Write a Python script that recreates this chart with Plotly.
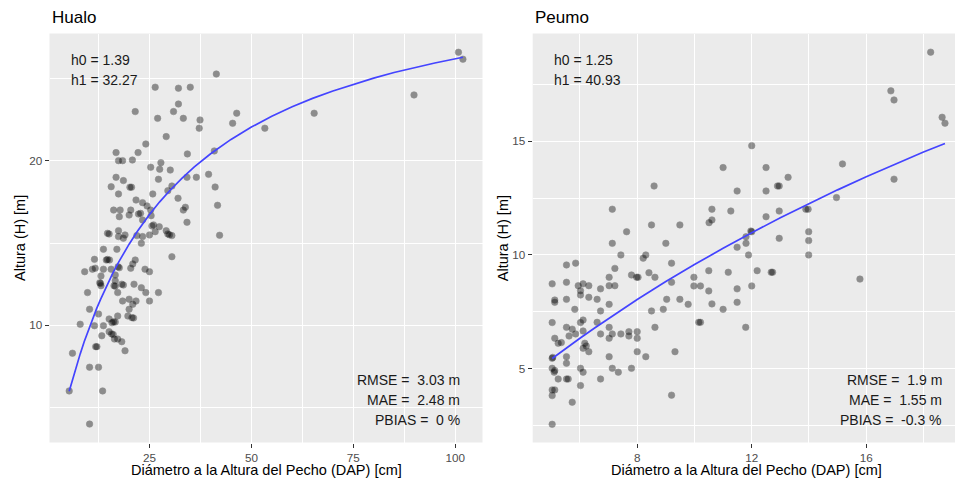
import plotly.graph_objects as go

# ---------------- Data: Hualo ----------------
hualo_dap = [26.4, 32.1, 35.0, 32.1, 30.9, 21.5, 27.0, 33.3, 37.4, 37.2, 29.1, 24.1, 16.8, 22.2,
             17.4, 18.4, 20.8, 27.8, 34.3, 25.3, 27.5, 30.1, 16.8, 18.6, 27.2, 34.2, 36.5, 39.5,
             15.6, 20.2, 20.6, 30.5, 17.4, 25.8, 29.5, 21.7, 32.0, 23.3, 16.2, 17.8, 20.4, 24.4,
             22.3, 22.8, 25.3, 20.0, 17.6, 25.4, 33.8, 33.3, 23.3, 34.2, 25.6, 26.0, 27.4, 14.7,
             15.1, 17.4, 19.0, 17.4, 21.9, 23.3, 25.0, 26.4, 29.1, 29.5, 29.9, 30.5, 23.0, 18.6,
             13.7, 17.0, 11.5, 14.4, 14.7, 15.2, 21.5, 20.9, 30.5, 9.1, 11.0, 11.7, 13.7, 15.6,
             17.3, 17.6, 20.4, 23.9, 25.0, 13.1, 16.6, 12.8, 13.0, 13.1, 16.6, 16.3, 16.6, 18.2,
             18.6, 21.2, 23.0, 24.1, 27.2, 9.8, 17.2, 18.4, 20.0, 21.7, 20.9, 25.0, 10.3, 12.5,
             20.0, 19.7, 20.7, 21.1, 17.2, 15.1, 16.2, 16.6, 15.8, 8.0, 11.5, 13.7, 15.1, 15.7,
             16.1, 13.3, 16.4, 17.2, 18.2, 19.0, 11.8, 12.1, 6.1, 10.3, 12.5, 5.3, 13.5, 10.3,
             41.4, 46.4, 45.4, 53.3, 65.4, 40.9, 41.1, 41.7, 42.2, 89.9, 100.8, 101.9]
hualo_h = [24.46, 24.4, 24.46, 23.44, 22.98, 22.98, 22.57, 22.57, 22.47, 21.97, 21.46, 21.01, 20.49, 20.49,
           20.0, 20.0, 20.04, 19.88, 20.41, 19.6, 19.48, 19.43, 18.99, 18.79, 18.87, 18.99, 18.99, 19.17,
           18.42, 18.39, 18.39, 18.46, 17.98, 17.98, 18.18, 17.61, 17.72, 17.45, 17.0, 17.0, 17.0, 17.25,
           16.76, 16.8, 17.0, 16.7, 16.6, 16.66, 17.17, 17.0, 16.4, 16.26, 16.04, 16.1, 15.99, 15.59,
           15.55, 15.75, 15.49, 15.39, 15.45, 15.39, 15.49, 15.69, 15.75, 15.55, 15.5, 15.45, 14.98, 15.29,
           14.62, 14.62, 14.01, 13.97, 14.0, 13.97, 13.97, 13.73, 14.17, 13.26, 13.41, 13.47, 13.41, 13.41,
           13.56, 13.5, 13.47, 13.41, 13.26, 13.0, 13.06, 12.59, 12.55, 12.41, 12.71, 12.41, 12.38, 12.5,
           12.45, 12.5, 12.29, 11.99, 11.99, 11.99, 11.99, 11.48, 11.59, 11.48, 11.28, 11.48, 10.98, 10.69,
           10.98, 10.57, 10.47, 10.45, 10.57, 10.39, 10.22, 10.2, 10.16, 10.07, 9.98, 9.98, 9.62, 9.48,
           9.45, 9.37, 9.17, 9.17, 9.01, 8.46, 8.71, 8.71, 8.31, 7.46, 7.46, 6.02, 6.02, 4.01,
           25.26, 22.88, 22.27, 21.97, 22.88, 20.59, 18.4, 17.29, 15.47, 23.99, 26.58, 26.16]
# fitted curve
hualo_fit_dap = [5.3, 6, 7, 8, 9, 10, 11, 12, 13, 14, 15, 16, 17.5, 19, 20, 22, 25, 27.5, 30, 33,
                 36, 40, 45, 50, 55, 60, 65, 70, 75, 80, 85, 90, 95, 101.9]
hualo_fit_h = [6.00, 6.63, 7.48, 8.27, 9.02, 9.72, 10.37, 11.00, 11.58, 12.14, 12.67, 13.17, 13.87,
               14.52, 14.93, 15.70, 16.73, 17.50, 18.19, 18.94, 19.62, 20.42, 21.29, 22.04, 22.69,
               23.27, 23.78, 24.23, 24.64, 25.01, 25.35, 25.65, 25.93, 26.28]

# ---------------- Data: Peumo ----------------
peumo_dap = [18.25, 16.86, 16.97, 18.65, 18.75,
             12.0, 11.0, 12.5, 13.27, 12.96, 12.9, 11.49, 12.5, 15.17, 16.97, 14.96, 10.61, 11.27,
             12.96, 13.89, 13.97, 10.51, 10.61, 12.5, 12.0, 11.97, 11.8, 11.49, 11.8, 12.96, 13.99,
             13.99, 11.89, 13.99, 9.98, 9.98, 10.21, 10.5, 10.5, 11.18, 12.19, 12.73, 12.68, 12.0,
             11.49, 11.49, 10.61, 11.0, 10.21, 10.15, 11.79, 15.78,
             8.59, 7.13, 8.5, 9.49, 7.63, 7.13, 9.0, 7.43, 8.3, 8.21, 5.53, 5.85, 7.22, 9.2,
             5.03, 5.53, 5.94, 6.11, 6.31, 6.02, 6.02, 6.72, 7.02, 7.22, 7.02, 7.8, 8.03, 7.98, 8.41,
             8.62, 5.12, 5.12, 5.53, 6.31, 6.6, 7.02, 5.82, 6.72, 5.03, 6.02, 6.11, 6.6, 5.53, 5.73,
             5.85, 5.62, 5.12, 6.11, 6.72, 7.02, 7.13, 7.02, 7.43, 7.71, 7.71, 8.0, 8.0, 8.62, 8.5,
             8.91, 9.03, 9.2, 9.49, 9.78, 5.24, 5.35, 6.17, 6.22, 6.11, 6.31, 5.03, 5.05, 5.53, 5.53,
             5.03, 5.12, 5.1, 6.02, 6.11, 7.02, 7.13, 7.34, 7.8, 8.0, 8.3, 9.32, 5.24, 5.53, 5.59,
             6.72, 6.02, 5.03, 5.12, 5.03, 5.73, 9.2, 5.03]
peumo_h = [18.91, 17.21, 16.81, 16.05, 15.79,
           14.8, 13.84, 13.84, 13.41, 13.03, 13.03, 12.81, 12.81, 14.0, 13.33, 12.52, 12.01, 11.93,
           11.93, 12.01, 12.01, 11.42, 11.54, 11.68, 11.02, 11.05, 10.8, 10.34, 10.51, 10.73, 11.02,
           10.63, 10.0, 10.0, 9.02, 8.64, 8.64, 9.31, 8.42, 9.24, 9.31, 9.24, 9.24, 8.64,
           8.51, 7.92, 7.85, 7.61, 7.04, 7.04, 6.82, 8.94,
           13.03, 12.01, 11.32, 11.32, 11.02, 10.51, 10.51, 10.0, 10.0, 9.86, 9.56, 9.64, 9.41, 9.64,
           8.73, 8.8, 8.65, 8.73, 8.65, 8.43, 8.24, 8.51, 9.02, 8.65, 8.65, 9.12, 9.02, 9.02, 9.22,
           9.02, 8.02, 7.92, 8.05, 8.14, 8.05, 7.83, 7.61, 7.54, 7.03, 7.03, 7.14, 7.04, 6.82, 6.74,
           6.53, 6.44, 6.34, 6.66, 6.53, 6.82, 6.53, 6.34, 6.53, 6.63, 6.44, 6.63, 6.34, 6.82, 7.54,
           7.61, 8.05, 8.8, 8.05, 7.83, 6.12, 6.15, 6.12, 6.0, 5.9, 5.75, 5.46, 5.5, 5.53, 5.24,
           5.02, 4.92, 4.85, 5.02, 4.85, 5.53, 5.02, 4.85, 5.02, 5.75, 5.53, 5.75, 4.55, 4.55, 4.55,
           4.55, 4.26, 4.07, 4.07, 3.82, 3.53, 3.84, 2.56]
peumo_fit_dap = [5.03, 5.5, 6, 6.5, 7, 7.5, 8, 9, 10, 11, 12, 13, 14, 15, 16, 17, 18, 18.75]
peumo_fit_h = [5.45, 5.89, 6.34, 6.78, 7.21, 7.63, 8.04, 8.83, 9.58, 10.29, 10.98, 11.63, 12.26,
               12.86, 13.44, 13.99, 14.52, 14.90]

titles = ["Hualo", "Peumo"]
param_text = [["h0 = 1.39", "h1 = 32.27"], ["h0 = 1.25", "h1 = 40.93"]]
stat_text = [["RMSE =\u00a0 3.03 m", "MAE =\u00a0 2.48 m", "PBIAS =\u00a0 0 %"],
             ["RMSE =\u00a0 1.9 m", "MAE =\u00a0 1.55 m", "PBIAS =\u00a0 -0.3 %"]]
x_title = "Diámetro a la Altura del Pecho (DAP) [cm]"
y_title = "Altura (H) [m]"

# ---------------- Figure ----------------
W, H = 955, 480
FONT = "Liberation Sans, Arial, sans-serif"
pt_marker = dict(color="black", opacity=0.4, size=6.5, line=dict(width=0.6, color="black"))
line_style = dict(color="rgb(68,68,255)", width=1.7)

fig = go.Figure()
fig.add_trace(go.Scatter(x=hualo_dap, y=hualo_h, mode="markers", marker=pt_marker,
                         xaxis="x", yaxis="y", showlegend=False, hoverinfo="skip"))
fig.add_trace(go.Scatter(x=hualo_fit_dap, y=hualo_fit_h, mode="lines", line=line_style,
                         xaxis="x", yaxis="y", showlegend=False))
fig.add_trace(go.Scatter(x=peumo_dap, y=peumo_h, mode="markers", marker=pt_marker,
                         xaxis="x2", yaxis="y2", showlegend=False, hoverinfo="skip"))
fig.add_trace(go.Scatter(x=peumo_fit_dap, y=peumo_fit_h, mode="lines", line=line_style,
                         xaxis="x2", yaxis="y2", showlegend=False))

# panel pixel boxes (right panel runs past the picture's edge)
pL = (49.5, 482.5)
pR = (532.7, 955.0)
pT, pB = 33.5, 442.5
ydom = [1 - pB / H, 1 - pT / H]

def axis_common(dtick, minor_dtick, rng, dom, anchor):
    return dict(domain=dom, range=rng, anchor=anchor, dtick=dtick, tick0=0,
                showgrid=True, gridcolor="white", gridwidth=1.1, zeroline=False,
                ticks="outside", ticklen=4, tickwidth=1, tickcolor="#333333",
                tickfont=dict(family=FONT, size=11.7, color="#4D4D4D"),
                minor=dict(dtick=minor_dtick, tick0=0, showgrid=True, gridcolor="white",
                           gridwidth=0.55, ticks=""),
                showline=False, fixedrange=True)

fig.update_layout(
    width=W, height=H, margin=dict(l=0, r=0, t=0, b=0),
    paper_bgcolor="white", plot_bgcolor="#EBEBEB",
    font=dict(family=FONT, color="black"),
    xaxis=axis_common(25, 12.5, [0.47, 106.7], [pL[0] / W, pL[1] / W], "y"),
    yaxis=axis_common(10, 5, [2.89, 27.72], ydom, "x"),
    xaxis2=axis_common(4, 2, [4.35, 19.10], [pR[0] / W, 1.0], "y2"),
    yaxis2=axis_common(5, 2.5, [1.76, 19.73], ydom, "x2"),
)

stat_right = [461.7, 944.3]
xtitle_center = [266.0, 746.5]
ann = []
for i, (l, r) in enumerate([pL, pR]):
    ann.append(dict(text=titles[i], x=l / W, y=1 - 18 / H, xref="paper", yref="paper",
                    xanchor="left", yanchor="middle", showarrow=False,
                    font=dict(family=FONT, size=17, color="black")))
    for j, t in enumerate(param_text[i]):
        ann.append(dict(text=t, x=(l + 19.3) / W, y=1 - (60 + 20 * j) / H, xref="paper", yref="paper",
                        xanchor="left", yanchor="middle", showarrow=False,
                        font=dict(family=FONT, size=14, color="#1A1A1A")))
    for j, t in enumerate(stat_text[i]):
        ann.append(dict(text=t, x=stat_right[i] / W, y=1 - (379.5 + 20.3 * j) / H,
                        xref="paper", yref="paper", xanchor="right", yanchor="middle", showarrow=False,
                        font=dict(family=FONT, size=14, color="#1A1A1A")))
    ann.append(dict(text=x_title, x=xtitle_center[i] / W, y=1 - 469.5 / H, xref="paper", yref="paper",
                    xanchor="center", yanchor="middle", showarrow=False,
                    font=dict(family=FONT, size=14.5, color="black")))
    ann.append(dict(text=y_title, x=(l - 29.5) / W, y=1 - (pT + pB) / 2 / H, xref="paper", yref="paper",
                    xanchor="center", yanchor="middle", showarrow=False, textangle=-90,
                    font=dict(family=FONT, size=14.5, color="black")))
fig.update_layout(annotations=ann)

fig.write_html("out.html")
